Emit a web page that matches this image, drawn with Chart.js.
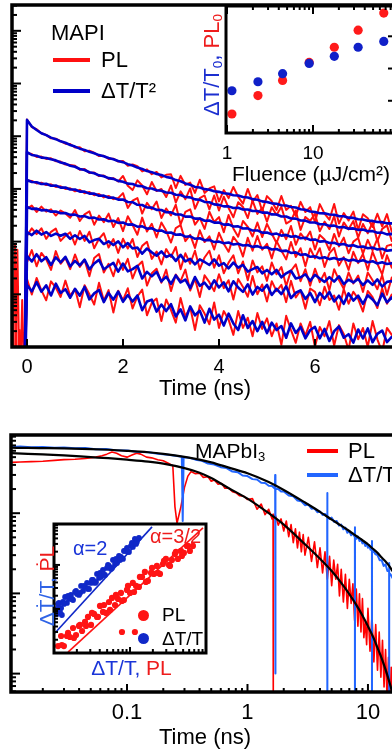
<!DOCTYPE html>
<html>
<head>
<meta charset="utf-8">
<script src="https://cdn.jsdelivr.net/npm/chart.js@4.4.1/dist/chart.umd.min.js"></script>
<style>
  html, body { margin: 0; padding: 0; overflow: hidden; background: #fff; }
  body { width: 392px; height: 756px; position: relative; font-family: "Liberation Sans", Arial, "DejaVu Sans", sans-serif; }
  .panel { position: absolute; }
  .lbl { position: absolute; white-space: nowrap; line-height: 1; color: #000; }
  .mid { transform: translate(-50%, -50%); }
  .rot { transform: translate(-50%, -50%) rotate(-90deg); }
  .swatch { position: absolute; height: 4px; }
  .dot { position: absolute; border-radius: 50%; }
  sub { font-size: 0.62em; vertical-align: -0.25em; line-height: 0; }
</style>
</head>
<body>
<div class="panel" style="left:0;top:0"><canvas id="decayChart" width="420" height="400"></canvas></div>
<div class="panel" style="left:200px;top:0"><canvas id="fluenceChart" width="220" height="200"></canvas></div>
<div class="panel" style="left:0;top:400px"><canvas id="logChart" width="420" height="356"></canvas></div>
<div class="panel" style="left:30px;top:500px"><canvas id="rateChart" width="200" height="180"></canvas></div>

<!-- top panel legend -->
<div class="lbl" style="left:51px;top:22px;font-size:22px">MAPI</div>
<div class="swatch" style="left:53px;top:57.5px;width:37px;background:#ff1010"></div>
<div class="lbl" style="left:101px;top:49px;font-size:22px">PL</div>
<div class="swatch" style="left:53px;top:89px;width:37px;background:#0000c8"></div>
<div class="lbl" style="left:101px;top:80px;font-size:22px">ΔT/T²</div>
<div class="lbl rot" style="left:212px;top:65px;font-size:22px"><span style="color:#1c2fd0">ΔT/T<sub>0</sub>,</span> <span style="color:#ee1c1c">PL<sub>0</sub></span></div>

<!-- bottom panel legend -->
<div class="lbl" style="left:195px;top:440px;font-size:21px">MAPbI<sub>3</sub></div>
<div class="swatch" style="left:307px;top:449px;width:31px;background:#ff0000"></div>
<div class="lbl" style="left:348px;top:440px;font-size:22px">PL</div>
<div class="swatch" style="left:307px;top:473px;width:31px;background:#2266ff"></div>
<div class="lbl" style="left:348px;top:464px;font-size:22px">ΔT/T</div>

<!-- bottom inset texts -->
<div class="lbl" style="left:73px;top:537.5px;font-size:20px;color:#1a35d8">α=2</div>
<div class="lbl" style="left:150px;top:526px;font-size:20px;color:#ee1c1c">α=3/2</div>
<div class="dot" style="left:137.5px;top:609.5px;width:11px;height:11px;background:#ff1414"></div>
<div class="lbl" style="left:162px;top:604.5px;font-size:19px">PL</div>
<div class="dot" style="left:137.5px;top:632.5px;width:11px;height:11px;background:#1028c8"></div>
<div class="lbl" style="left:162px;top:628.5px;font-size:19px">ΔT/T</div>
<div class="lbl mid" style="left:131.5px;top:667px;font-size:21px"><span style="color:#1a35d8">ΔT/T,</span> <span style="color:#ee1c1c">PL</span></div>
<div class="lbl rot" style="left:46px;top:585.5px;font-size:21px"><span style="color:#2f63e6">ΔṪ/T,</span> <span style="color:#ee1c1c">ṖL</span></div>

<script>
// ---- top panel: transients (ns), arbitrary log units ----
const topTime = [-0.3,-0.25,-0.2,-0.15,-0.1,-0.05,
  0,0.1,0.2,0.3,0.4,0.5,0.6,0.7,0.8,0.9,1,1.1,1.2,1.3,1.4,1.5,1.6,1.7,1.8,1.9,
  2,2.1,2.2,2.3,2.4,2.5,2.6,2.7,2.8,2.9,3,3.1,3.2,3.3,3.4,3.5,3.6,3.7,3.8,3.9,
  4,4.1,4.2,4.3,4.4,4.5,4.6,4.7,4.8,4.9,5,5.1,5.2,5.3,5.4,5.5,5.6,5.7,5.8,5.9,
  6,6.1,6.2,6.3,6.4,6.5,6.6,6.7,6.8,6.9,7,7.1,7.2,7.3,7.4,7.5,7.6,7.7];
const timeTicks = [0, 2, 4, 6];

const dtTrace1 = [null,null,null,null,null,0.1,
  20400,15300,13100,11400,10500,9400,8800,8000,7500,6800,
  6350,5800,5500,5050,4750,4380,4150,3850,3650,3400,
  3220,2950,2780,2540,2390,2180,2080,1920,1840,1690,
  1620,1470,1400,1270,1200,1090,1060,990,965,900,
  880,825,810,760,750,700,685,640,622,580,
  566,532,522,490,483,455,443,412,402,373,
  364,345,344,326,324,305,303,285,282,266,
  263,248,247,235,234,222,222,213];
const plTrace1 = [0.1,0.1,0.1,0.1,0.1,0.1,
  20800,14900,13600,11400,10600,9100,9000,8100,7200,7100,
  6100,6200,5200,5300,4850,4200,4250,3700,3750,3300,
  3400,2750,2900,2700,2150,2350,1900,2100,1650,1850,
  1900,1040,1770,1190,1320,840,1490,840,1020,1120,
  580,950,670,1090,710,525,1000,570,765,380,
  730,585,398,735,400,480,307,567,365,450,
  234,514,340,260,518,220,347,251,371,167,
  330,277,189,338,195,333,154,245];
const dtTrace2 = [null,null,null,null,null,0.1,
  5000,4400,4250,3920,3870,3640,3480,3170,3020,2750,
  2630,2390,2280,2070,1980,1810,1740,1600,1550,1420,
  1370,1260,1240,1140,1120,1030,1020,940,925,855,
  845,775,765,700,690,632,622,566,558,508,
  498,466,466,435,437,407,408,380,381,355,
  357,328,326,300,299,275,273,251,250,230,
  230,214,214,199,201,186,189,176,178,167,
  169,157,158,147,148,137,140,131];
const plTrace2 = [0.1,0.1,0.1,0.1,0.1,0.1,
  4800,4600,4050,4100,3700,3800,3350,3300,2900,2850,
  2750,2300,2380,2000,2050,1750,1800,1550,1600,1380,
  1760,1150,950,1450,1160,790,1350,910,1000,700,
  1160,550,900,640,1020,420,670,750,410,750,
  390,710,435,290,560,455,280,600,335,435,
  240,450,320,460,220,250,390,166,294,247,
  338,157,240,173,305,125,231,171,245,119,
  216,144,232,102,174,203,103,181];
const dtTrace3 = [null,null,null,null,null,0.1,
  1480,1350,1340,1240,1250,1150,1160,1060,1060,975,
  975,890,890,815,815,740,745,680,685,625,
  630,565,560,500,495,445,442,400,398,360,
  358,327,327,298,300,273,275,249,251,229,
  230,210,212,193,195,177,178,162,163,148,
  149,137,142,130,134,124,127,116,118,108,
  110,100,102,94,95,87.5,90,83,85,79,
  81,75,77,71,73,67,69,64.5];
const plTrace3 = [0.1,0.1,0.1,0.1,0.1,0.1,
  1450,1420,1270,1310,1180,1220,1090,1120,1000,1030,
  900,960,830,870,760,800,690,735,640,670,
  830,435,600,670,340,545,410,575,280,425,
  315,500,211,367,410,210,281,174,368,235,
  292,151,320,178,124,246,191,125,230,122,
  217,141,94,167,111,198,87,143,109,155,
  71,134,110,69,140,81,119,60,100,117,
  59,108,68,113,48,83,88,53];
const dtTrace4 = [null,null,null,null,null,0.1,
  455,418,422,392,398,370,372,345,350,322,
  325,300,304,280,285,262,266,244,248,227,
  230,210,212,192,195,176,179,161,163,147,
  149,135,137,124,126,113,116,106,108,98,
  100,93,96,88,91,84.5,86.5,79.5,82,75.5,
  78,71,72.5,66,67.5,61,62.5,56,57.5,51.5,
  52.5,48.5,50.5,46.5,49,45.5,47.5,43.5,45.5,42,
  44.5,40.5,42.5,38.5,40.5,37.5,39,36];
const plTrace4 = [0.1,0.1,0.1,0.1,7.8,0.1,
  419,482,365,462,370,410,312,389,342,284,
  398,246,328,374,209,311,234,339,189,280,
  158,302,207,135,285,155,218,120,231,160,
  96,181,206,102,134,76,164,98,126,71,
  147,91,64,123,93,52,118,67,128,70,
  91,48,102,68,46,98,51,75,34,74,
  48,75,33,60,76,35,51,29,64,39,
  58,29,64,38,24,55,32,56];
const dtTrace5 = [null,null,null,null,null,0.1,
  152,133,161,136,152,128,142,129,141,113,
  132,112,128,97,107,113,90,101,86,101,
  78,94,74,77,59,74,62.5,54,65,51,
  56,43,56,42,47,37,46,41,36,46,
  35,39,31,40,32,36,27,30,33,25,
  29,24,29,21,25,28,20,21,24,18,
  23.5,20,17.2,21.2,17.4,22,15.6,18.9,16.8,19.5,
  15,18.4,15.1,19.2,14,17.2,17.9,14.1];
const plTrace5 = [0.1,87,0.1,0.1,0.1,0.1,
  129,178,139,179,113,153,176,103,129,150,
  88,159,103,154,75,113,144,77,112,61,
  113,74,112,51,83,99,47,65,37,72,
  51,79,30,60,38,67,30,50,67,32,
  55,25,40,55,25,42,18.5,44,26,34,
  18,40,24,33,14.3,28,37,17.7,30,14.6,
  30.6,17,25.5,12,30,18.6,12.8,26,16,22.6,
  11.1,26,18.5,12.5,23,9.8,20.8,14.1];
const dtTrace6 = [null,null,null,null,null,0.1,
  53.5,42,57.6,42.3,50.6,36,50.4,40.4,51.5,34,
  43,35.3,45.4,29.8,38.4,45,29.9,34.4,39.6,26.9,
  38.4,27.3,30,34.7,20,26.7,21.9,26.6,17.6,21.6,
  15.8,22.8,16.8,19,13.1,21.3,14.5,16.6,12.7,18.4,
  13.5,16.8,11.4,17.7,13.5,11.1,15.5,9.9,13.8,11.7,
  15.1,9.7,12.7,10.1,14.2,8.5,10.7,11.9,8.2,10.6,
  7.1,10.6,8.3,11.1,7.3,9.4,6.6,10.4,7.6,9.4,
  6.6,9.6,8,6.2,10.3,7,8.7,6.4];
const plTrace6 = [0.1,0.1,70,0.1,0.1,0.1,
  41,69,34,61,46,29,66,38,49,30,
  57,33,45,22,49,58,26,38,22,46,
  29,47,20,34,42,14.6,25,30.5,16.6,29.4,
  11.5,23.7,17.7,29.4,11.8,19.7,8.9,22.9,17,11.5,
  24,13.1,18.5,8,19.6,13.8,9,22.2,10,15.4,
  7.3,17.7,11.5,15.1,7.1,18,8.7,11.9,5.3,12.9,
  11.1,6.2,13.9,7.8,9.5,5.1,12.6,6.6,11.2,8.2,
  4.7,11.6,8.8,5.5,13,6.6,9.9,4.7];
const dtTrace7 = [null,null,null,null,null,0.1,
  15,11.4,17,11.2,14.8,9.5,15.9,10.6,12.5,8.6,
  12.7,9.4,13.8,8,10.4,12.1,7.1,10.6,7.9,11.3,
  7.2,9.7,7.3,9.5,5,7.3,7.9,4.7,6.4,4.8,
  6.5,3.8,5.2,3.2,5.9,4,4.9,2.9,5.3,3.3,
  4.1,2.55,4.3,2.8,2.1,4,2.3,3.1,2,3,
  1.84,2.9,2.1,2.5,1.5,2.8,1.85,2.4,1.46,2.1,
  2.4,1.46,2.2,1.3,2,2.45,1.5,1.75,1.21,2.15,
  1.45,2.25,1.23,1.77,2.05,1.24,1.55,1.4];
const plTrace7 = [5.7,0.1,0.1,2.1,0.1,0.1,
  19.5,9.9,20.4,11.9,7.7,17.6,13.4,8.9,18.2,9.4,
  12.7,5.7,14.8,10,6.4,16.5,7.6,12,4.5,11.7,
  7.7,13,5.4,9.1,12.3,4,6.9,8.3,3.1,8,
  5,2.9,8.5,3.8,5.7,2.1,6.2,4.3,2.7,7,
  2.3,4.8,3.3,1.7,4.8,2.3,3.6,1.6,4.4,2.2,
  3.5,1.6,2.8,1.1,3.9,2.1,1.2,2.8,1.65,3,
  1.0,2.4,1.6,3.1,1.07,2.6,1.76,0.88,2.8,1.4,
  2.3,1.0,3.1,1.4,0.8,2.3,1.7,1.1];

// ---- top inset: amplitude vs fluence ----
const fluence = [1.14, 2.29, 4.43, 9.03, 17.7, 33.5, 66.6];
const dtAmp = [1.31, 1.59, 1.84, 2.16, 2.38, 2.66, 2.84];
const plAmp = [0.59, 1.16, 1.63, 2.19, 2.66, 3.19, 3.72];
const fluenceTicks = [1, 10];
const ampTicks = [1, 2, 3];

// ---- bottom panel: log-log decays ----
const dtTime = [0.011,0.013,0.016,0.02,0.025,0.03,0.037,0.045,0.055,0.067,
  0.08,0.1,0.12,0.15,0.18,0.22,0.26,0.285,0.29,0.295,
  0.33,0.37,0.42,0.47,0.53,0.6,0.67,0.75,0.83,0.91,
  1.0,1.1,1.2,1.3,1.4,1.5,1.6,1.69,1.697,1.703,
  1.71,1.8,1.9,2.0,2.2,2.4,2.6,2.8,3.0,3.2,
  3.4,3.6,3.8,4.0,4.2,4.4,4.59,4.597,4.603,4.61,
  4.8,5.0,5.25,5.5,5.75,6.0,6.25,6.5,6.75,7.0,
  7.25,7.5,7.79,7.797,7.803,7.81,8.0,8.25,8.5,8.75,
  9.0,9.25,9.5,9.75,10.0,10.25,10.5,10.79,10.797,10.803,
  10.81,11.0,11.5,12.0,12.5,13.0,13.5,14.0,14.5,14.99,
  14.997,15.003,15.01,15.5,16.0,16.5,17.0,17.5,18.0];
const dtSignal = [0.67,0.68,0.665,0.67,0.655,0.66,0.645,0.65,0.625,0.63,
  0.61,0.605,0.585,0.575,0.55,0.535,0.515,0.505,0.08,0.50,
  0.49,0.465,0.45,0.415,0.405,0.375,0.365,0.33,0.325,0.295,
  0.29,0.266,0.263,0.24,0.238,0.22,0.218,0.202,0.30,0.001,
  0.2,0.2,0.186,0.186,0.166,0.163,0.144,0.141,0.126,0.128,
  0.114,0.115,0.103,0.105,0.095,0.098,0.089,0.178,0.0003,0.093,
  0.085,0.088,0.078,0.08,0.07,0.072,0.063,0.066,0.057,0.06,
  0.053,0.056,0.05,0.067,0.0003,0.053,0.048,0.051,0.045,0.047,
  0.042,0.044,0.039,0.042,0.037,0.04,0.035,0.036,0.045,0.0003,
  0.034,0.035,0.031,0.030,0.026,0.026,0.022,0.023,0.019,0.0195,
  0.024,0.0003,0.018,0.017,0.0155,0.0148,0.0135,0.013,0.012];
const plTime = [0.011,0.013,0.016,0.02,0.025,0.03,0.037,0.045,0.055,0.062,
  0.068,0.075,0.082,0.09,0.1,0.11,0.12,0.13,0.145,0.16,
  0.18,0.2,0.22,0.24,0.25,0.26,0.28,0.3,0.32,0.34,
  0.37,0.4,0.43,0.47,0.5,0.53,0.57,0.61,0.65,0.7,
  0.75,0.8,0.86,0.93,1.0,1.1,1.2,1.3,1.4,1.5,
  1.6,1.63,1.635,1.64,1.7,1.8,1.9,2.0,2.1,2.2,
  2.3,2.4,2.5,2.6,2.7,2.8,2.9,3.0,3.2,3.4,
  3.6,3.8,4.0,4.2,4.4,4.6,4.8,5.0,5.2,5.4,
  5.6,5.8,6.0,6.25,6.5,6.75,7.0,7.25,7.5,7.75,
  8.0,8.25,8.5,8.75,9.0,9.25,9.5,9.75,10.0,10.4,
  10.8,11.2,11.6,12.0,12.4,12.8,13.2,13.6,14.0,14.4,
  14.8,15.2,15.6,16.0,16.4,16.8,17.2];
const plSignal = [0.43,0.435,0.44,0.445,0.455,0.465,0.47,0.48,0.50,0.52,
  0.545,0.58,0.56,0.52,0.50,0.53,0.56,0.545,0.50,0.49,
  0.465,0.45,0.42,0.39,0.12,0.075,0.12,0.21,0.29,0.33,
  0.31,0.315,0.28,0.285,0.25,0.26,0.23,0.235,0.205,0.205,
  0.185,0.18,0.165,0.163,0.148,0.152,0.112,0.13,0.096,0.112,
  0.085,0.097,0.0003,0.088,0.095,0.071,0.085,0.060,0.080,0.051,
  0.072,0.043,0.064,0.037,0.058,0.033,0.054,0.030,0.050,0.025,
  0.044,0.021,0.037,0.018,0.033,0.015,0.029,0.0125,0.026,0.015,
  0.023,0.0093,0.020,0.0078,0.0173,0.0065,0.015,0.0075,0.0132,0.0046,
  0.0113,0.0039,0.0099,0.0033,0.0086,0.0028,0.0045,0.0023,0.0065,0.0019,
  0.0053,0.0014,0.0041,0.0011,0.0033,0.0009,0.0026,0.00068,0.002,0.0005,
  0.0016,0.00038,0.0012,0.0003,0.0009,0.00022,0.0007];
const fitTime = [0.011,0.015,0.02,0.03,0.05,0.07,0.1,0.15,0.2,0.3,0.4,0.5,0.7,1,1.5,2,3,4,5,6,7,8,9,10,11,12,13,14,15,16,17,18];
const fitDt = [0.655,0.652,0.648,0.642,0.63,0.618,0.60,0.575,0.55,0.505,0.465,0.43,0.37,0.315,0.245,0.195,0.136,0.104,0.083,0.07,0.06,0.052,0.046,0.041,0.036,0.032,0.028,0.025,0.022,0.019,0.0165,0.014];
const fitPl = [0.56,0.55,0.54,0.525,0.50,0.485,0.465,0.44,0.415,0.365,0.32,0.275,0.205,0.152,0.10,0.072,0.041,0.027,0.019,0.0135,0.0098,0.0072,0.0053,0.0039,0.0029,0.0021,0.00155,0.00112,0.0008,0.00057,0.0004,0.00028];
const logTimeTicks = [0.1, 1, 10];

// ---- bottom inset: rate vs signal ----
const rateDtX = [1.095,1.16,1.24,1.31,1.40,1.48,1.58,1.67,1.78,1.89,
  2.01,2.13,2.27,2.41,2.56,2.72,2.89,3.07,3.26,3.46,
  3.68,3.91,4.15,4.41,4.69,4.98,5.29,5.62,5.97,6.35,
  6.74,7.16,7.61,8.08,8.59,9.12,9.69,10.3,10.9,11.6,12.3,13.1,
  1.13,1.20,1.35,1.53,1.72,1.95,2.20,2.48,2.80,3.16,
  3.57,4.03,4.55,5.13,5.80,6.54,7.39,8.33,9.41,10.6,12.0,
  1.27,1.095,1.20];
const rateDtY = [10.0,13.7,10.5,14.4,18.7,13.7,16.9,20.8,16.0,24.3,
  21.9,20.8,33.3,25.7,31.6,39.0,28.5,39.0,45.6,39.0,
  62.4,50.6,53.4,77.0,59.2,85.5,94.9,81.1,130,105,
  111,160,152,137,208,243,197,270,256,390,333,411,
  13.0,10.5,13.0,19.7,16.9,25.7,23.1,33.3,28.5,45.6,
  41.1,65.8,59.2,100,85.5,137,130,208,197,316,300,
  7.3,7.7,8.5];
const ratePlX = [1.13,1.24,1.35,1.48,1.62,1.78,1.95,2.13,2.34,2.56,
  2.80,3.07,3.36,3.68,4.03,4.41,4.83,5.29,5.80,6.35,
  6.95,7.61,8.33,9.12,10.0,10.9,12.0,13.1,14.4,15.7,
  17.2,18.9,20.6,22.6,24.8,27.1,29.7,32.5,35.6,39.0,
  42.7,46.8,51.2,56.1,61.4,67.3,
  1.27,1.53,1.83,2.20,2.64,3.16,3.79,4.55,5.46,6.54,
  7.84,9.41,11.3,13.5,16.2,19.5,23.3,28.0,33.6,40.2,48.2,57.6,
  7.84,11.6];
const ratePlY = [1.44,2.43,1.44,2.43,2.31,3.70,2.56,4.11,3.16,5.07,
  6.58,4.33,7.70,6.58,11.7,8.55,8.11,14.4,17.8,12.3,
  16.9,23.1,16.0,27.0,23.1,39.0,33.3,31.6,53.4,69.3,
  43.3,65.8,62.4,94.9,62.4,105,137,100,130,178,
  137,208,187,270,208,270,
  1.52,2.85,2.19,4.33,4.11,8.11,6.58,12.3,9.5,20.8,
  15.2,33.3,24.3,53.4,41.1,85.5,65.8,123,94.9,197,160,270,
  3.0,3.0];
const slopeDtX = [1.03, 19.5];
const slopeDtY = [2.85, 731];
const slopePlX = [1.53, 91.3];
const slopePlY = [1.05, 692];

const FONT = '"Liberation Sans", Arial, Helvetica, sans-serif';

function pairs(xs, ys) {
    return xs.map((x, i) => ({ x: x, y: ys[i] }));
}

function logTickValues(min, max) {
    const out = [];
    for (let e = Math.floor(Math.log10(min)); e <= Math.ceil(Math.log10(max)); e++) {
        for (let k = 1; k < 10; k++) {
            const v = k * Math.pow(10, e);
            if (v >= min && v <= max) out.push({ value: v, major: k === 1 });
        }
    }
    return out;
}

// frame box + inward tick marks, drawn from the chart's own scales
const frameTicks = {
    id: 'frameTicks',
    beforeDraw(chart, args, opts) {
        if (!opts.fill) return;
        const a = chart.chartArea;
        const ctx = chart.ctx;
        ctx.save();
        ctx.fillStyle = opts.fill;
        ctx.fillRect(a.left, a.top, a.right - a.left, a.bottom - a.top);
        ctx.restore();
    },
    afterDraw(chart, args, opts) {
        const a = chart.chartArea;
        const ctx = chart.ctx;
        ctx.save();
        ctx.strokeStyle = '#000';
        ctx.lineWidth = opts.tickWidth || 2;
        (opts.marks || []).forEach(m => {
            const scale = chart.scales[m.axis];
            const list = m.log ? logTickValues(scale.min, scale.max)
                               : scale.ticks.map(t => ({ value: t.value, major: true }));
            list.forEach(t => {
                const len = t.major ? m.major : m.minor;
                if (!len) return;
                const p = scale.getPixelForValue(t.value);
                ctx.beginPath();
                if (m.side === 'left') { ctx.moveTo(a.left, p); ctx.lineTo(a.left + len, p); }
                if (m.side === 'right') { ctx.moveTo(a.right, p); ctx.lineTo(a.right - len, p); }
                if (m.side === 'bottom') { ctx.moveTo(p, a.bottom); ctx.lineTo(p, a.bottom - len); }
                if (m.side === 'top') { ctx.moveTo(p, a.top); ctx.lineTo(p, a.top + len); }
                ctx.stroke();
            });
        });
        ctx.lineWidth = opts.width || 3;
        ctx.strokeRect(a.left, a.top, a.right - a.left, a.bottom - a.top);
        ctx.restore();
    }
};

const hiddenY = (type, min, max, tickList) => ({
    type: type, min: min, max: max,
    afterBuildTicks: tickList ? (s => { s.ticks = tickList.map(v => ({ value: v })); }) : undefined,
    afterFit: s => { s.width = 0; },
    ticks: { display: false },
    grid: { display: false },
    border: { display: false }
});

const common = {
    responsive: false,
    animation: false,
    events: [],
    plugins: { legend: { display: false }, tooltip: { enabled: false } },
    elements: {
        line: { tension: 0, borderJoinStyle: 'round', fill: false },
        point: { radius: 0 }
    }
};

document.addEventListener('DOMContentLoaded', () => {
    try {
        Chart.defaults.font.family = FONT;
        Chart.defaults.color = '#000';

        // Top panel: PL and dT/T^2 transients
        const dtTraces = [dtTrace1, dtTrace2, dtTrace3, dtTrace4, dtTrace5, dtTrace6, dtTrace7];
        const plTraces = [plTrace1, plTrace2, plTrace3, plTrace4, plTrace5, plTrace6, plTrace7];
        const decaySets = [];
        dtTraces.forEach(v => decaySets.push({ data: pairs(topTime, v), borderColor: '#0000c8', borderWidth: 2.6 }));
        plTraces.forEach(v => decaySets.push({ data: pairs(topTime, v), borderColor: '#ff1010', borderWidth: 2.0 }));

        new Chart(document.getElementById('decayChart'), {
            type: 'line',
            data: { datasets: decaySets },
            plugins: [frameTicks],
            options: {
                ...common,
                layout: { padding: { left: 12, top: 5, right: 22, bottom: 0 } },
                plugins: {
                    ...common.plugins,
                    frameTicks: {
                        width: 3.5,
                        marks: [
                            { axis: 'y', side: 'left', log: true, major: 9, minor: 5 },
                            { axis: 'x', side: 'bottom', major: 8 }
                        ]
                    }
                },
                scales: {
                    x: {
                        type: 'linear', min: -0.3125, max: 7.73,
                        afterBuildTicks: s => { s.ticks = timeTicks.map(v => ({ value: v })); },
                        afterFit: s => { s.height = 53; },
                        grid: { display: false, drawTicks: false },
                        border: { display: false },
                        ticks: { font: { size: 20 }, padding: 8, maxRotation: 0, autoSkip: false },
                        title: { display: true, text: 'Time (ns)', font: { size: 22, lineHeight: 1 }, padding: 0 }
                    },
                    y: hiddenY('logarithmic', 1, 3.09e6)
                }
            }
        });

        // Top inset: amplitudes vs fluence
        new Chart(document.getElementById('fluenceChart'), {
            type: 'scatter',
            data: {
                datasets: [
                    { data: pairs(fluence, dtAmp), pointRadius: 4.6, pointBackgroundColor: '#1020c8', pointBorderWidth: 0 },
                    { data: pairs(fluence, plAmp), pointRadius: 4.6, pointBackgroundColor: '#ff1a1a', pointBorderWidth: 0 }
                ]
            },
            plugins: [frameTicks],
            options: {
                ...common,
                layout: { padding: { left: 26, top: 6, right: 24, bottom: 0 } },
                plugins: {
                    ...common.plugins,
                    frameTicks: {
                        fill: '#fff', width: 3,
                        marks: [
                            { axis: 'x', side: 'bottom', log: true, major: 8, minor: 4 },
                            { axis: 'x', side: 'top', log: true, major: 8, minor: 4 },
                            { axis: 'y', side: 'right', major: 8 }
                        ]
                    }
                },
                scales: {
                    x: {
                        type: 'logarithmic', min: 0.973, max: 92.4,
                        afterBuildTicks: s => { s.ticks = fluenceTicks.map(v => ({ value: v })); },
                        afterFit: s => { s.height = 67; },
                        grid: { display: false, drawTicks: false },
                        border: { display: false },
                        ticks: { font: { size: 19 }, padding: 9, maxRotation: 0, autoSkip: false, callback: v => String(v) },
                        title: { display: true, text: 'Fluence (µJ/cm²)', font: { size: 21 }, padding: { top: 0, bottom: 12 } }
                    },
                    y: hiddenY('linear', 0, 3.94, ampTicks)
                }
            }
        });

        // Bottom panel: log-log decays with fits
        new Chart(document.getElementById('logChart'), {
            type: 'line',
            data: {
                datasets: [
                    { data: pairs(fitTime, fitDt), borderColor: '#000', borderWidth: 2.2, cubicInterpolationMode: 'monotone' },
                    { data: pairs(fitTime, fitPl), borderColor: '#000', borderWidth: 2.2, cubicInterpolationMode: 'monotone' },
                    { data: pairs(dtTime, dtSignal), borderColor: '#2266ff', borderWidth: 2.0 },
                    { data: pairs(plTime, plSignal), borderColor: '#ff0000', borderWidth: 1.6 }
                ]
            },
            plugins: [frameTicks],
            options: {
                ...common,
                layout: { padding: { left: 11, top: 35, right: 21, bottom: 0 } },
                plugins: {
                    ...common.plugins,
                    frameTicks: {
                        width: 3.5,
                        marks: [
                            { axis: 'y', side: 'left', log: true, major: 9, minor: 5 },
                            { axis: 'x', side: 'bottom', log: true, major: 8, minor: 4 }
                        ]
                    }
                },
                scales: {
                    x: {
                        type: 'logarithmic', min: 0.01089, max: 18.1,
                        afterBuildTicks: s => { s.ticks = logTimeTicks.map(v => ({ value: v })); },
                        afterFit: s => { s.height = 64; },
                        grid: { display: false, drawTicks: false },
                        border: { display: false },
                        ticks: { font: { size: 22 }, padding: 8, maxRotation: 0, autoSkip: false, callback: v => String(v) },
                        title: { display: true, text: 'Time (ns)', font: { size: 22, lineHeight: 1 }, padding: { top: 0, bottom: 7 } }
                    },
                    y: hiddenY('logarithmic', 5.9e-4, 0.944)
                }
            }
        });

        // Bottom inset: rate vs signal
        new Chart(document.getElementById('rateChart'), {
            type: 'scatter',
            data: {
                datasets: [
                    { data: pairs(slopeDtX, slopeDtY), showLine: true, borderColor: '#1028c8', borderWidth: 1.6, pointRadius: 0 },
                    { data: pairs(slopePlX, slopePlY), showLine: true, borderColor: '#ff1414', borderWidth: 1.6, pointRadius: 0 },
                    { data: pairs(rateDtX, rateDtY), pointRadius: 2.9, pointBackgroundColor: '#1028c8', pointBorderWidth: 0 },
                    { data: pairs(ratePlX, ratePlY), pointRadius: 3.1, pointBackgroundColor: '#ff1414', pointBorderWidth: 0 }
                ]
            },
            plugins: [frameTicks],
            options: {
                ...common,
                layout: { padding: { left: 24, top: 24, right: 24, bottom: 0 } },
                plugins: {
                    ...common.plugins,
                    frameTicks: {
                        fill: '#fff', width: 3,
                        marks: [
                            { axis: 'y', side: 'left', log: true, major: 6, minor: 4 },
                            { axis: 'x', side: 'bottom', log: true, major: 6, minor: 4 }
                        ]
                    }
                },
                scales: {
                    x: {
                        type: 'logarithmic', min: 1, max: 100,
                        afterFit: s => { s.height = 27; },
                        grid: { display: false, drawTicks: false },
                        border: { display: false },
                        ticks: { display: false }
                    },
                    y: hiddenY('logarithmic', 1, 850)
                }
            }
        });
    } catch (error) {
        console.error('Error al inicializar los gráficos:', error);
    }
});
</script>
</body>
</html>
